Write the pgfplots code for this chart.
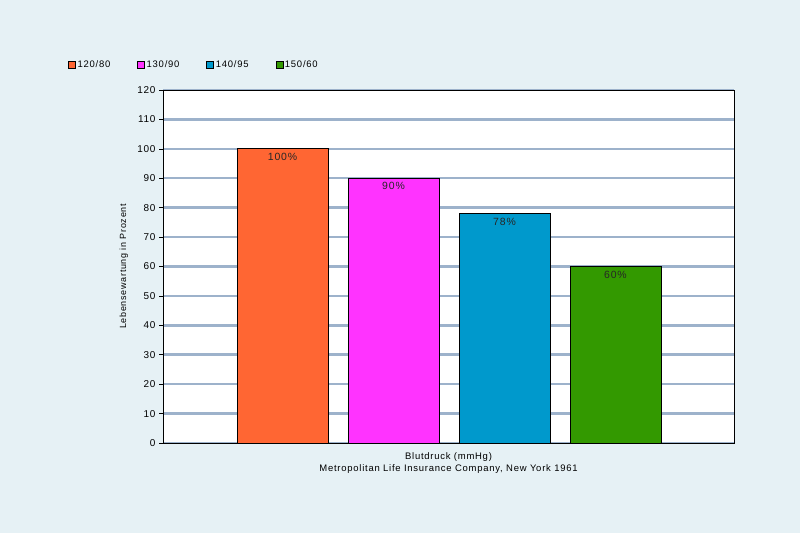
\documentclass[border=0pt]{standalone}
\usepackage{pgfplots}
\pgfplotsset{compat=1.18}
\usepackage{fontspec}
\setmainfont[LetterSpace=8]{Liberation Sans}
\definecolor{bgc}{HTML}{E6F1F5}
\definecolor{gridc}{HTML}{9DB2CB}
\definecolor{c1}{HTML}{FF6633}
\definecolor{c2}{HTML}{FF33FF}
\definecolor{c3}{HTML}{0099CC}
\definecolor{c4}{HTML}{339900}
\begin{document}
\begin{tikzpicture}[x=1bp,y=1bp]
\fill[bgc] (0,0) rectangle (800,533);
\begin{axis}[
  at={(163bp,90bp)}, anchor=south west,
  scale only axis, width=571bp, height=353bp,
  xmin=-1.077, xmax=4.068, ymin=0, ymax=120,
  ytick={0,10,...,120},
  xtick=\empty,
  axis background/.style={fill=white},
  axis line style={black, line width=0.8pt},
  ymajorgrids, grid style={gridc, line width=2.5pt},
  tick style={black, line width=0.6pt},
  major tick length=4bp,
  ytick pos=left, tick align=outside,
  font=\fontsize{10}{11}\selectfont,
  tick label style={font=\fontsize{10}{11}\selectfont, text=black},
  /pgf/number format/assume math mode=true,
  ylabel={Lebensewartung in Prozent},
  ylabel style={font=\fontsize{9}{11}\selectfont, text=black, at={(axis description cs:-0.055,0.5)}},
  xlabel={Blutdruck (mmHg)\\Metropolitan Life Insurance Company, New York 1961},
  xlabel style={align=center, font=\fontsize{9.5}{12}\selectfont, text=black, at={(axis description cs:0.5,-0.018)}, anchor=north},
  ybar, bar width=91bp, bar shift=0pt,
  nodes near coords={\pgfmathprintnumber{\pgfplotspointmeta}\%},
  nodes near coords style={anchor=north, yshift=-0.5bp, font=\fontsize{10.5}{11}\selectfont, text=black!85},
  legend style={at={(-0.1716,1.0708)}, anchor=west, draw=none, fill=none,
    legend columns=4, font=\fontsize{9.5}{11}\selectfont, text=black,
    /tikz/every even column/.append style={column sep=25bp}},
  legend cell align=left,
  legend image code/.code={\draw[#1,draw=black,line width=0.4pt] (0bp,-3.5bp) rectangle (7bp,3.5bp);},
  every axis plot/.append style={draw=black, line width=0.8pt},
]
\addplot[fill=c1] coordinates {(0,100)};
\addplot[fill=c2] coordinates {(1,90)};
\addplot[fill=c3] coordinates {(2,78)};
\addplot[fill=c4] coordinates {(3,60)};
\legend{120/80,130/90,140/95,150/60}
\end{axis}
\pgfresetboundingbox
\path[use as bounding box] (0,0) rectangle (800,533);
\end{tikzpicture}
\end{document}
